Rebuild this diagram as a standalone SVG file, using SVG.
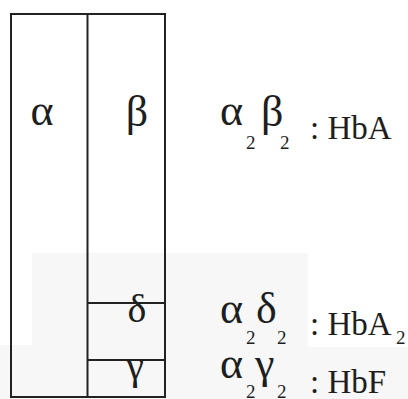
<svg xmlns="http://www.w3.org/2000/svg" width="408" height="399" viewBox="0 0 408 399">
<style>
.ln{stroke:#222;stroke-width:2;fill:none}
.g{font-family:"Liberation Serif","DejaVu Serif",serif;fill:#1e1e1e}
.big{font-size:44px}
.box{font-size:40px}
.lab{font-size:33px}
.sub{font-size:19px}
</style>
<rect width="408" height="399" fill="#fff"/>
<g id="watermark">
<polygon points="32,253 308,253 308,347 408,347 408,399 0,399 0,345 32,345" fill="#f7f7f7"/>
</g>
<g id="connectors">
<line class="ln" x1="10" y1="14" x2="166" y2="14"/>
<line class="ln" x1="11" y1="13" x2="11" y2="398"/>
<line class="ln" x1="87.5" y1="13" x2="87.5" y2="398"/>
<line class="ln" x1="165" y1="13" x2="165" y2="398"/>
<line class="ln" x1="10" y1="397" x2="166" y2="397"/>
</g>
<g id="alpha-chain">
<text class="g big" x="42" y="125" text-anchor="middle">α</text>
</g>
<g id="beta-chain">
<text class="g big" x="137" y="126" text-anchor="middle">β</text>
</g>
<g id="delta-chain">
<line class="ln" x1="87" y1="303" x2="165" y2="303"/>
<text class="g box" x="137" y="322" text-anchor="middle">δ</text>
</g>
<g id="gamma-chain">
<line class="ln" x1="87" y1="360" x2="165" y2="360"/>
<text class="g box" x="135" y="379" text-anchor="middle">γ</text>
</g>
<g id="label-HbA">
<text class="g big" x="220" y="125">α</text>
<text class="g sub" x="246" y="149">2</text>
<text class="g big" x="261" y="126">β</text>
<text class="g sub" x="280" y="149">2</text>
<text class="g lab" x="310" y="139">: HbA</text>
</g>
<g id="label-HbA2">
<text class="g big" x="220" y="323">α</text>
<text class="g sub" x="246" y="344">2</text>
<text class="g big" x="256" y="323">δ</text>
<text class="g sub" x="277" y="344">2</text>
<text class="g lab" x="310" y="335">: HbA</text>
<text class="g sub" x="396" y="344">2</text>
</g>
<g id="label-HbF">
<text class="g big" x="220" y="378">α</text>
<text class="g sub" x="246" y="398">2</text>
<text class="g big" x="255" y="378">γ</text>
<text class="g sub" x="277" y="398">2</text>
<text class="g lab" x="310" y="393">: HbF</text>
</g>
</svg>
